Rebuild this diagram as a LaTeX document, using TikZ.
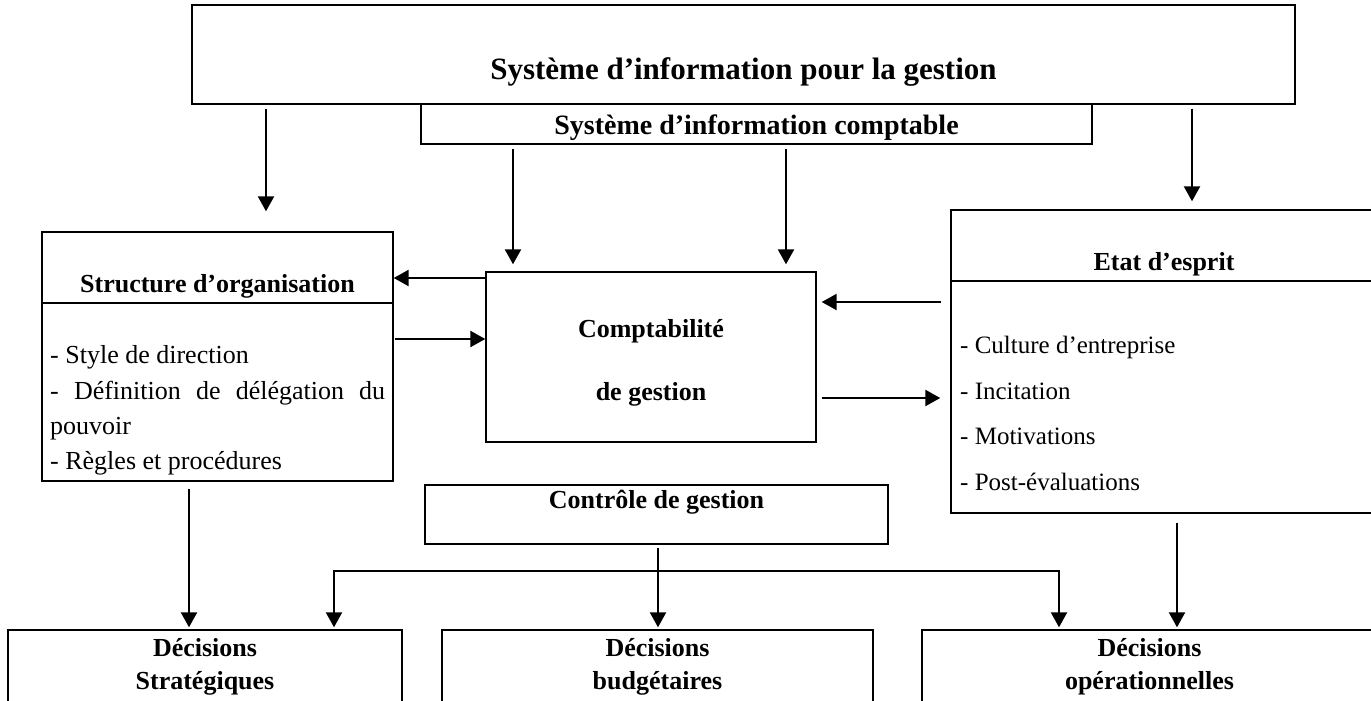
\documentclass[tikz,border=0pt]{standalone}
\usepackage{fontspec}
\setmainfont{Liberation Serif}
\usetikzlibrary{arrows.meta,calc}
\begin{document}
\begin{tikzpicture}[x=1pt,y=-1pt,
  frame/.style={draw, line width=1.4pt, inner sep=0pt},
  link/.style={line width=2.3pt, -{Triangle[width=16pt,length=15pt]}},
  fork/.style={line width=2.3pt, {Triangle[width=16pt,length=15pt]}-{Triangle[width=16pt,length=15pt]}},
  headA/.style={anchor=base, inner sep=0pt, font=\fontsize{31}{36}\selectfont\bfseries},
  headB/.style={anchor=base, inner sep=0pt, font=\fontsize{28}{33}\selectfont\bfseries},
  head/.style={anchor=base, inner sep=0pt, font=\fontsize{26}{31}\selectfont\bfseries},
  item/.style={anchor=base west, inner sep=0pt, font=\fontsize{26}{31}\selectfont},
  itemR/.style={anchor=base west, inner sep=0pt, font=\fontsize{25}{30}\selectfont}
]
\useasboundingbox (0,0) rectangle (1371,701);
\fill[white] (0,0) rectangle (1371,701);
\clip (0,0) rectangle (1371,701);

% frames
\node[frame, minimum width=1103pt, minimum height=99pt]  (sig)  at (743.5,54.5) {};
\node[frame, minimum width=671pt,  minimum height=40pt]  (sic)  at (756.5,124) {};
\node[frame, minimum width=351pt,  minimum height=249pt] (org)  at (217.5,356.5) {};
\node[frame, minimum width=330pt,  minimum height=170pt] (cg)   at (651,357) {};
\node[frame, minimum width=426pt,  minimum height=303pt] (esp)  at (1164,361.5) {};
\node[frame, minimum width=463pt,  minimum height=59pt]  (ctrl) at (656.5,514.5) {};
\node[frame, minimum width=394pt,  minimum height=100pt] (dstr) at (205,680) {};
\node[frame, minimum width=431pt,  minimum height=100pt] (dbud) at (657.5,680) {};
\node[frame, minimum width=455pt,  minimum height=100pt] (dop)  at (1149.5,680) {};

% header rules inside the two list boxes
\coordinate (orgrule) at (0,303);
\coordinate (esprule) at (0,281);
\draw[line width=1.4pt] (org.west |- orgrule) -- (org.east |- orgrule);
\draw[line width=1.4pt] (esp.west |- esprule) -- (esp.east |- esprule);

% texts
\node[headA] (tsig) at (743.5,79) {Système d’information pour la gestion};
\node[headB] (tsic) at (756.5,134) {Système d’information comptable};
\node[head] (torg) at (217.5,292) {Structure d’organisation};
\node[item] (o1) at (50,363) {- Style de direction};
\node[item] (o2) at (50,399) {\makebox[335pt][s]{- Définition de délégation du}};
\node[item] (o3) at (50,434) {pouvoir};
\node[item] (o4) at (50,469) {- Règles et procédures};
\node[head] (tcg1) at (651,337) {Comptabilité};
\node[head] (tcg2) at (651,400) {de gestion};
\node[head] (tesp) at (1164,270) {Etat d’esprit};
\node[itemR] (e1) at (960,353) {- Culture d’entreprise};
\node[itemR] (e2) at (960,399) {- Incitation};
\node[itemR] (e3) at (960,444) {- Motivations};
\node[itemR] (e4) at (960,490) {- Post-évaluations};
\node[head] (tctrl) at (656.5,508) {Contrôle de gestion};
\node[head] (tstr1) at (205,656) {Décisions};
\node[head] (tstr2) at (205,689) {Stratégiques};
\node[head] (tbud1) at (657.5,656) {Décisions};
\node[head] (tbud2) at (657.5,689) {budgétaires};
\node[head] (top1) at (1149.5,656) {Décisions};
\node[head] (top2) at (1149.5,689) {opérationnelles};

% connector guide positions
\coordinate (xa) at (266,0);
\coordinate (xb) at (1192,0);
\coordinate (xc) at (513,0);
\coordinate (xd) at (786,0);
\coordinate (ya) at (0,278);
\coordinate (yb) at (0,339);
\coordinate (yc) at (0,302);
\coordinate (yd) at (0,398);
\coordinate (xe) at (189,0);
\coordinate (xf) at (1177,0);
\coordinate (xg) at (658,0);
\coordinate (fl) at (334,571);
\coordinate (fr) at (1059,571);

% connectors
\draw[link, shorten <=4pt, shorten >=20pt] (sig.south -| xa) -- (org.north -| xa);
\draw[link, shorten <=4pt, shorten >=8pt]  (sig.south -| xb) -- (esp.north -| xb);
\draw[link, shorten <=4pt, shorten >=7pt]  (sic.south -| xc) -- (cg.north -| xc);
\draw[link, shorten <=4pt, shorten >=7pt]  (sic.south -| xd) -- (cg.north -| xd);
\draw[link] (cg.west |- ya) -- (org.east |- ya);
\draw[link, shorten <=1pt] (org.east |- yb) -- (cg.west |- yb);
\draw[link, shorten <=9pt, shorten >=5pt] (esp.west |- yc) -- (cg.east |- yc);
\draw[link, shorten <=5pt, shorten >=10pt] (cg.east |- yd) -- (esp.west |- yd);
\draw[link, shorten <=7pt, shorten >=2pt] (org.south -| xe) -- (dstr.north -| xe);
\draw[link, shorten <=9pt, shorten >=2pt] (esp.south -| xf) -- (dop.north -| xf);
\draw[link, shorten <=3pt, shorten >=2pt] (ctrl.south -| xg) -- (dbud.north -| xg);
\draw[fork, shorten <=2pt, shorten >=2pt] (dstr.north -| fl) -- (fl) -- (fr) -- (dop.north -| fr);
\end{tikzpicture}
\end{document}
